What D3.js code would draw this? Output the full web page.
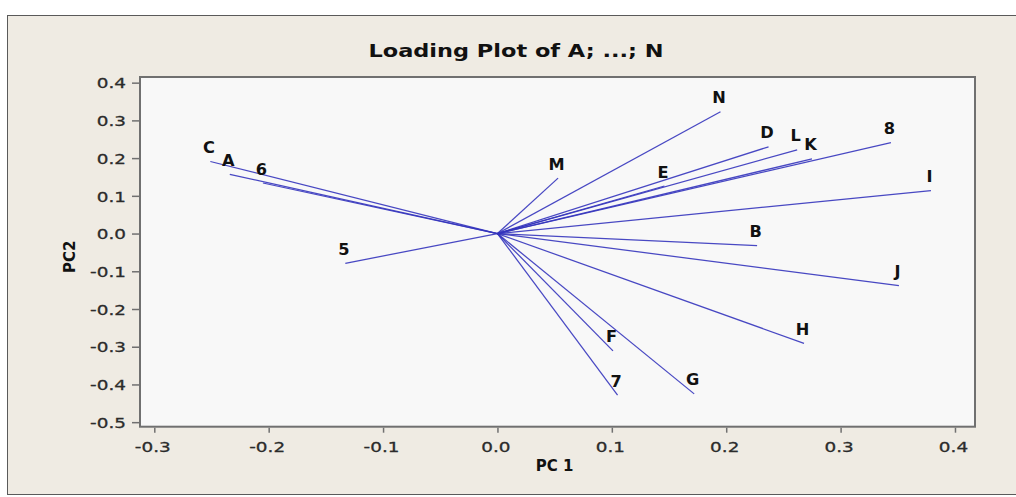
<!DOCTYPE html>
<html>
<head>
<meta charset="utf-8">
<script src="https://cdn.jsdelivr.net/npm/d3@7"></script>
<style>
  body { margin: 0; background: #fff; }
  svg { display: block; }
  text { font-family: "DejaVu Sans", Verdana, sans-serif; }
</style>
</head>
<body>
<svg id="chart"></svg>
<script>
// Variable names and their loadings on PC1 / PC2
const varNames = ["A", "B", "C", "D", "E", "F", "G", "H", "I", "J", "K", "L", "M", "N", "5", "6", "7", "8"];
const pc1 = [-0.234, 0.227, -0.251, 0.237, 0.146, 0.101, 0.172, 0.268, 0.379, 0.351, 0.275, 0.262, 0.053, 0.195, -0.133, -0.205, 0.105, 0.344];
const pc2 = [0.157, -0.032, 0.191, 0.230, 0.126, -0.311, -0.425, -0.291, 0.114, -0.138, 0.198, 0.222, 0.147, 0.323, -0.079, 0.134, -0.428, 0.241];

const xTicks = [-0.3, -0.2, -0.1, 0.0, 0.1, 0.2, 0.3, 0.4];
const xTickLabels = ["-0.3", "-0.2", "-0.1", "0.0", "0.1", "0.2", "0.3", "0.4"];
const yTicks = [0.4, 0.3, 0.2, 0.1, 0.0, -0.1, -0.2, -0.3, -0.4, -0.5];
const yTickLabels = ["0.4", "0.3", "0.2", "0.1", "0.0", "-0.1", "-0.2", "-0.3", "-0.4", "-0.5"];

const title = "Loading Plot of A; ...; N";

// layout
let width = 1016,
  height = 497,
  plot = { left: 140, top: 77, right: 975, bottom: 426.7 },
  frameColor = "#707070",
  lineColor = "#3434bc",
  textColor = "#2b2b2b",
  stretch = 1.27; // tick labels in the picture are wider than DejaVu

const svg = d3.select("#chart").attr("width", width).attr("height", height);

// outer beige panel
svg.append("rect")
  .attr("x", 7.5).attr("y", 15.5)
  .attr("width", width + 10).attr("height", 479)
  .attr("fill", "#efebe3")
  .attr("stroke", "#5a5a5a")
  .attr("stroke-width", 1);

const xScale = d3.scaleLinear().domain([-0.3125, 0.4175]).range([plot.left, plot.right]);
const yScale = d3.scaleLinear().domain([-0.512, 0.415]).range([plot.bottom, plot.top]);

// plot area
svg.append("rect")
  .attr("x", plot.left).attr("y", plot.top)
  .attr("width", plot.right - plot.left).attr("height", plot.bottom - plot.top)
  .attr("fill", "#f8f8f8");

// loading lines from the origin
svg.append("g")
  .selectAll("line")
  .data(varNames)
  .join("line")
  .attr("x1", xScale(0)).attr("y1", yScale(0))
  .attr("x2", (d, i) => xScale(pc1[i]))
  .attr("y2", (d, i) => yScale(pc2[i]))
  .attr("stroke", lineColor)
  .attr("stroke-width", 1.25)
  .attr("stroke-opacity", 0.9);

// labels sit just above the end of each line
svg.append("g")
  .selectAll("text")
  .data(varNames)
  .join("text")
  .attr("transform", (d, i) => "translate(" + (xScale(pc1[i]) - 1.5) + "," + (yScale(pc2[i]) - 8.5) + ") scale(1.08,1)")
  .attr("text-anchor", "middle")
  .attr("font-size", 15)
  .attr("font-weight", "bold")
  .attr("fill", "#111")
  .text(d => d);

// frame
svg.append("rect")
  .attr("x", plot.left).attr("y", plot.top)
  .attr("width", plot.right - plot.left).attr("height", plot.bottom - plot.top)
  .attr("fill", "none")
  .attr("stroke", frameColor)
  .attr("stroke-width", 2);

// axes
const xAxis = svg.append("g")
  .attr("transform", "translate(0," + (plot.bottom + 1) + ")")
  .call(d3.axisBottom(xScale).tickValues(xTicks).tickSize(5).tickFormat((d, i) => xTickLabels[i]));

const yAxis = svg.append("g")
  .attr("transform", "translate(" + (plot.left - 1) + ",0)")
  .call(d3.axisLeft(yScale).tickValues(yTicks).tickSize(7).tickFormat((d, i) => yTickLabels[i]));

[xAxis, yAxis].forEach(ax => {
  ax.select(".domain").remove();
  ax.selectAll(".tick line").attr("stroke", frameColor).attr("stroke-width", 1.5);
  ax.selectAll(".tick text")
    .attr("fill", textColor)
    .attr("stroke", textColor)
    .attr("stroke-width", 0.3)
    .attr("font-size", 14.5)
    .attr("font-family", "'DejaVu Sans', Verdana, sans-serif");
});

xAxis.selectAll(".tick text")
  .attr("y", 0).attr("dy", 0)
  .attr("transform", "translate(-2,24) scale(" + stretch + ",1)");

yAxis.selectAll(".tick text")
  .attr("x", 0).attr("dy", "0.36em")
  .attr("transform", "translate(-13,0) scale(" + stretch + ",1)");

// title and axis titles
svg.append("text")
  .attr("x", 516).attr("y", 57)
  .attr("text-anchor", "middle")
  .attr("font-size", 17)
  .attr("font-weight", "bold")
  .attr("fill", "#111")
  .attr("textLength", 295)
  .attr("lengthAdjust", "spacingAndGlyphs")
  .text(title);

svg.append("text")
  .attr("x", (plot.left + plot.right) / 2 - 3).attr("y", 471)
  .attr("text-anchor", "middle")
  .attr("font-size", 15)
  .attr("font-weight", "bold")
  .attr("fill", "#111")
  .text("PC 1");

svg.append("text")
  .attr("transform", "translate(75," + ((plot.top + plot.bottom) / 2 + 5) + ") rotate(-90)")
  .attr("text-anchor", "middle")
  .attr("font-size", 15)
  .attr("font-weight", "bold")
  .attr("fill", "#111")
  .text("PC2");
</script>
</body>
</html>
